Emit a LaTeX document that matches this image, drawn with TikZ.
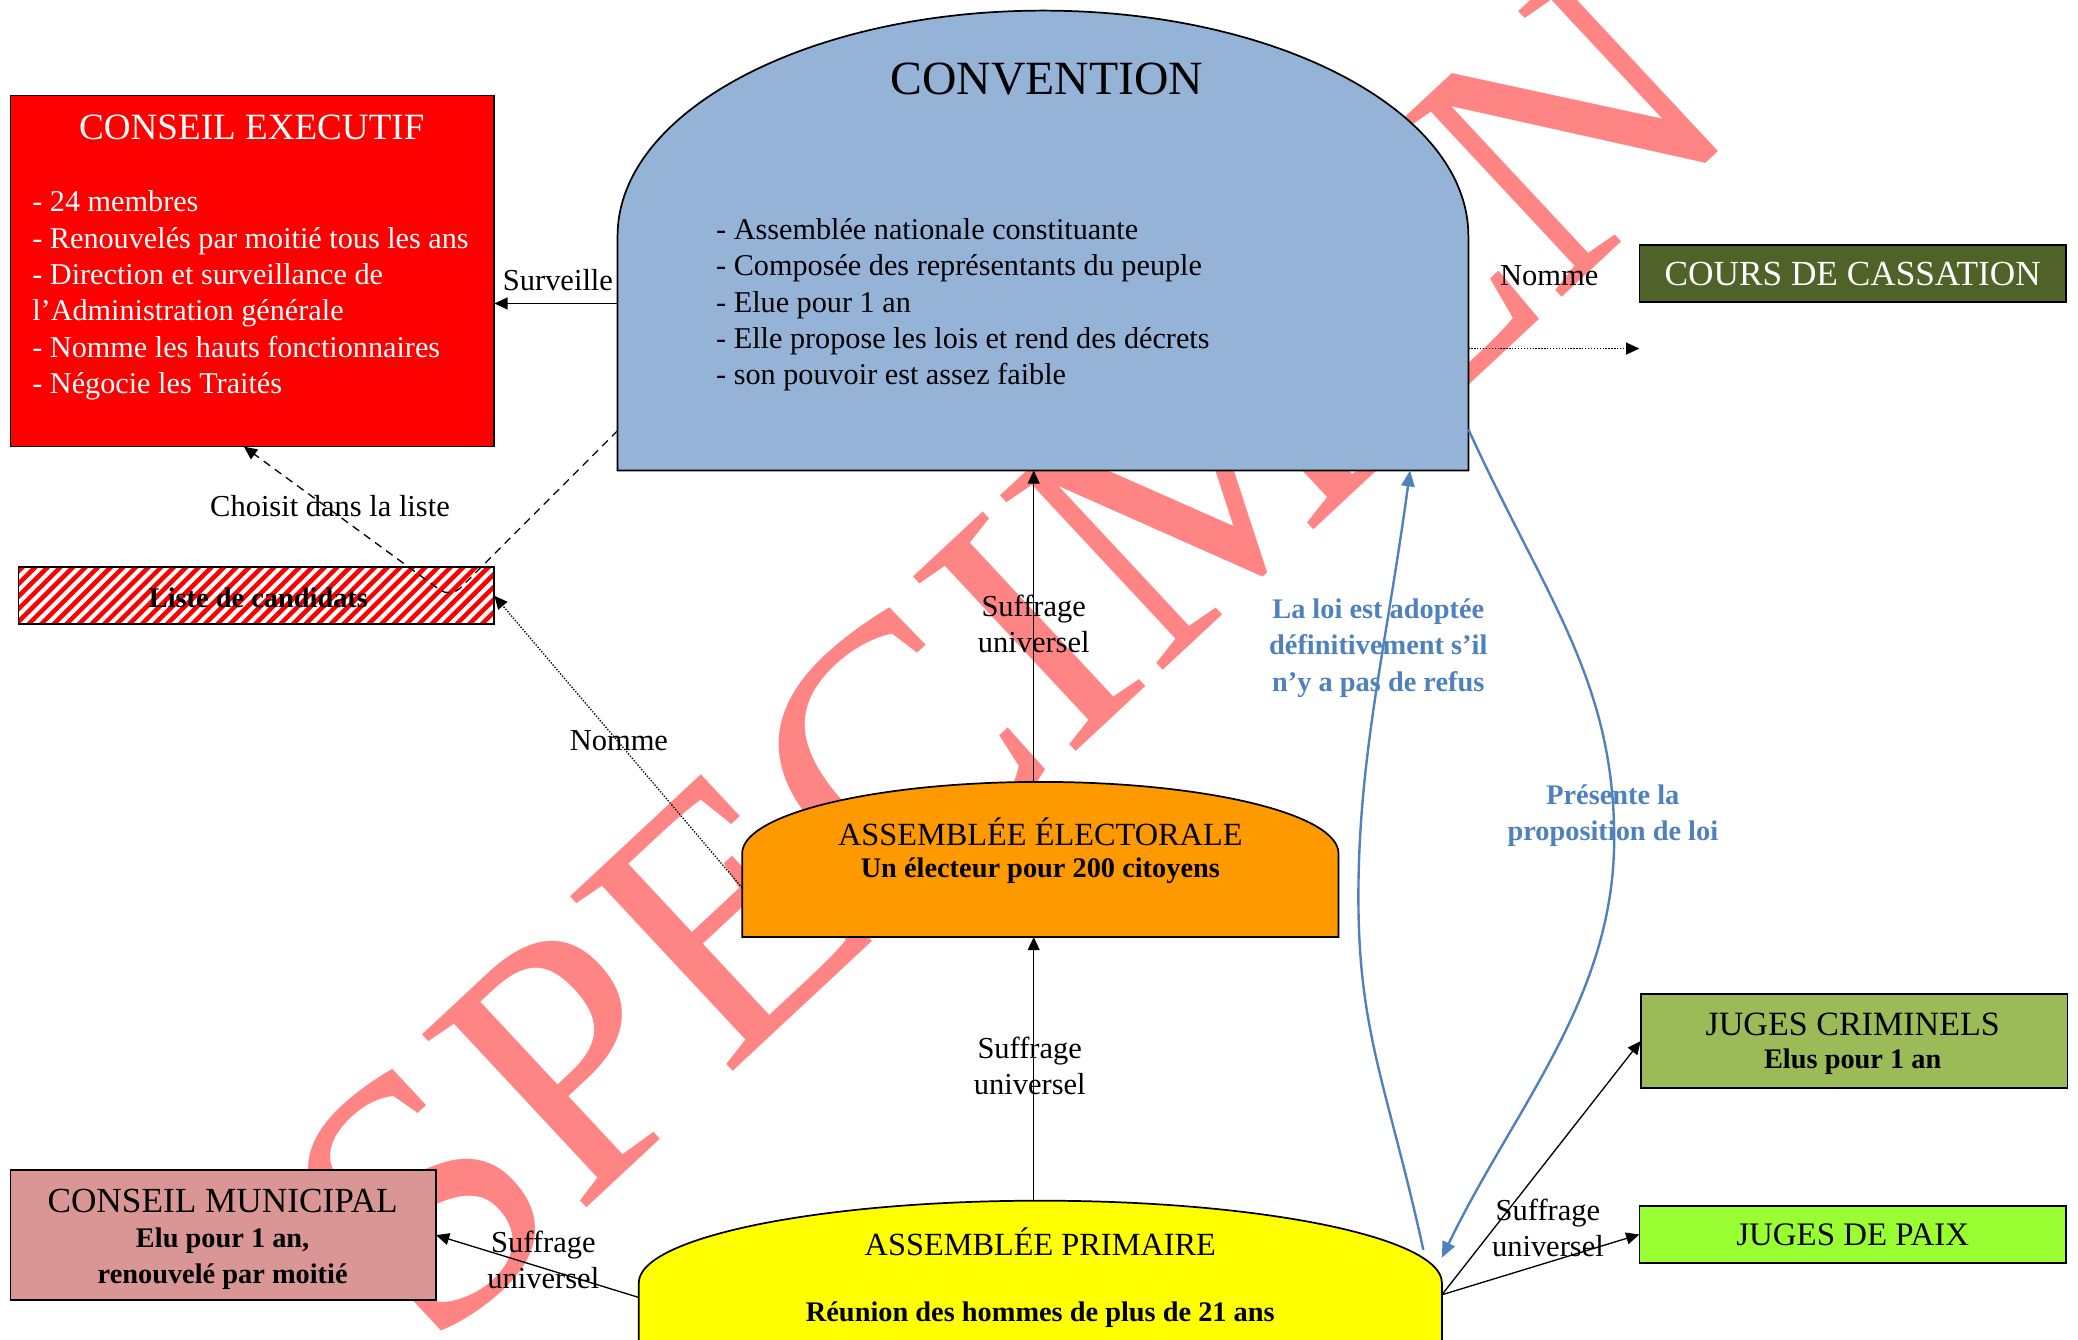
\documentclass[tikz,border=0pt]{standalone}
\usepackage{fontspec}
\setmainfont{Liberation Serif}
\usetikzlibrary{arrows.meta}
\definecolor{convblue}{HTML}{95B3D7}
\definecolor{cassgreen}{HTML}{4F6228}
\definecolor{electorange}{HTML}{FF9900}
\definecolor{primyellow}{HTML}{FFFF00}
\definecolor{munipink}{HTML}{D99694}
\definecolor{jcgreen}{HTML}{9BBB59}
\definecolor{jpgreen}{HTML}{99FF33}
\definecolor{loiblue}{HTML}{4F81BD}
\definecolor{wmred}{RGB}{255,132,132}
\begin{document}
\begin{tikzpicture}[x=0.5pt,y=-0.5pt,
  holder/.style={inner sep=0pt, outer sep=0pt, draw=none},
  rectbox/.style={draw=black, line width=0.65pt, inner sep=0pt, outer sep=0pt},
  domebox/.style={draw=black, line width=0.65pt},
  tipstyle/.style={-{Triangle[length=5pt,width=4.5pt]}},
  arr/.style={tipstyle, line width=0.5pt},
  dashedarr/.style={arr, dash pattern=on 3pt off 2.2pt},
  dottedarr/.style={arr, dash pattern=on 0.5pt off 0.6pt},
  bluearr/.style={draw=loiblue, line width=0.9pt, -{Triangle[length=6pt,width=5pt]}},
  lbl/.style={font=\fontsize{11.5}{13.5}\selectfont, align=center, inner sep=0pt},
  ttl/.style={font=\fontsize{12.8}{15}\selectfont, inner sep=0pt},
  subt/.style={font=\bfseries\fontsize{10.7}{13.5}\selectfont, inner sep=0pt, align=center},
  bluelbl/.style={text=loiblue, font=\bfseries\fontsize{10.7}{13.75}\selectfont, align=center, inner sep=0pt},
  bodytxt/.style={font=\fontsize{11.4}{13.7}\selectfont, align=left, inner sep=0pt, anchor=west},
]
\useasboundingbox (0,0) rectangle (1568,1011);
\clip (0,0) rectangle (1568,1011);
\fill[white] (0,0) rectangle (1568,1011);

% watermark
\node[holder, anchor=base west, rotate=43, text=wmred, font=\fontsize{137.5}{140}\selectfont] (wm) at (324,1022) {SPECIMEN};

% ---- shapes ----
% Conseil executif
\node[rectbox, fill=red, minimum width=182.5pt, minimum height=132.5pt] (ce) at (190.5,204.5) {};
\node[ttl, text=white, font=\fontsize{14}{16}\selectfont] (cetitle) at (190,96) {CONSEIL EXECUTIF};
\node[bodytxt, text=white] (cebody) at (24,223) {- 24 membres\\- Renouvelés par moitié tous les ans\\- Direction et surveillance de\\l'Administration générale\\- Nomme les hauts fonctionnaires\\- Négocie les Traités};

% Convention
\draw[domebox, fill=convblue] (466,355) -- (466,178) .. controls (466,84.1) and (609.7,8) .. (787,8) .. controls (964.3,8) and (1108,84.1) .. (1108,178) -- (1108,355) -- cycle;
\node[holder, minimum width=321pt, minimum height=173.5pt] (conv) at (787,181.5) {};
\node[ttl, font=\fontsize{18}{20}\selectfont] (convtitle) at (790,60) {CONVENTION};
\node[bodytxt] (convbody) at (540,230) {- Assemblée nationale constituante\\- Composée des représentants du peuple\\- Elue pour 1 an\\- Elle propose les lois et rend des décrets\\- son pouvoir est assez faible};

% Cours de cassation
\node[rectbox, fill=cassgreen, minimum width=161pt, minimum height=21.5pt] (cass) at (1398,206.5) {};
\node[ttl, text=white, font=\fontsize{13.3}{15}\selectfont] (casstxt) at (1398,207) {COURS DE CASSATION};

% Liste de candidats
\node[rectbox, fill=white, minimum width=179.5pt, minimum height=21.5pt] (liste) at (193.5,449.5) {};
\begin{scope}
  \clip (liste.south west) rectangle (liste.north east);
  \foreach \i in {0,...,44} {
    \draw[red, line width=1.7pt] ({-30+9.5*\i},475) -- ++(50,-50);
  }
\end{scope}
\draw[line width=0.65pt] (liste.south west) rectangle (liste.north east);
\node[subt] (listetxt) at (195,451) {Liste de candidats};

% Assemblee electorale
\draw[domebox, fill=electorange] (560,707) -- (560,644) .. controls (560,614.2) and (660.7,590) .. (785,590) .. controls (909.3,590) and (1010,614.2) .. (1010,644) -- (1010,707) -- cycle;
\node[holder, minimum width=225pt, minimum height=58.5pt] (elect) at (785,648.5) {};
\node[ttl, font=\fontsize{12.2}{14}\selectfont] (electtitle) at (785,628) {ASSEMBLÉE ÉLECTORALE};
\node[subt] (electsub) at (785,657) {Un électeur pour 200 citoyens};

% Assemblee primaire
\draw[domebox, fill=primyellow] (482,1030) -- (482,968) .. controls (482,933.8) and (617.7,906) .. (785,906) .. controls (952.3,906) and (1088,933.8) .. (1088,968) -- (1088,1030) -- cycle;
\node[holder, minimum width=303pt, minimum height=62pt] (prim) at (785,968) {};
\node[ttl, font=\fontsize{12.2}{14}\selectfont] (primtitle) at (785,937) {ASSEMBLÉE PRIMAIRE};
\node[subt] (primsub) at (785,992) {Réunion des hommes de plus de 21 ans};

% Conseil municipal
\node[rectbox, fill=munipink, minimum width=160.5pt, minimum height=49pt] (muni) at (168.5,932) {};
\node[ttl, font=\fontsize{13.3}{15}\selectfont] (munititle) at (168,906) {CONSEIL MUNICIPAL};
\node[subt] (munisub) at (168,949.5) {Elu pour 1 an,\\renouvelé par moitié};

% Juges
\node[rectbox, fill=jcgreen, minimum width=161pt, minimum height=35.5pt] (jc) at (1399,785.5) {};
\node[ttl, font=\fontsize{12.85}{15}\selectfont] (jctitle) at (1398,773) {JUGES CRIMINELS};
\node[subt] (jcsub) at (1398,801) {Elus pour 1 an};
\node[rectbox, fill=jpgreen, minimum width=161pt, minimum height=21.5pt] (jp) at (1398,931.5) {};
\node[ttl, font=\fontsize{12.4}{15}\selectfont] (jptitle) at (1398,932) {JUGES DE PAIX};

% ---- connectors ----
\draw[arr] ([yshift=-23.75pt]conv.west) -- ([yshift=-23.75pt]conv.west -| ce.east);
\node[lbl] (lsurv) at (421,211) {Surveille};

\coordinate (cassTip) at (1237,263);
\draw[dottedarr] ([yshift=-40.75pt]conv.east) -- (cassTip);
\node[lbl] (lnomme1) at (1169,208) {Nomme};

\draw[dashedarr, rounded corners=5pt] ([yshift=-71.75pt]conv.west) -- (340,451) -- ([xshift=-3.25pt]ce.south);
\node[lbl] (lchoisit) at (249,382) {Choisit dans la liste};

\draw[dottedarr] ([yshift=-10.75pt]elect.west) -- (liste.east);
\node[lbl] (lnomme2) at (467,559) {Nomme};

\draw[arr] ([xshift=-2.5pt]elect.north) -- ([xshift=-2.5pt]elect.north |- conv.south);
\node[lbl] (ls1) at (780,470.5) {Suffrage\\universel};
\draw[arr] ([xshift=-2.5pt]prim.north) -- ([xshift=-2.5pt]prim.north |- elect.south);
\node[lbl] (ls2) at (777,804.5) {Suffrage\\universel};
\draw[arr] ([yshift=-5.5pt]prim.west) -- (muni.east);
\node[lbl] (ls3) at (410,950.5) {Suffrage\\universel};
\draw[arr] ([yshift=-4.5pt]prim.east) -- (jc.west);
\draw[arr] ([yshift=-4.5pt]prim.east) -- (jp.west);
\node[lbl] (ls4) at (1168,926.5) {Suffrage\\universel};

\draw[bluearr] ([xshift=-7pt,yshift=-18.5pt]prim.north east) .. controls (1047,820) and (1025,780) .. (1025,677) .. controls (1025,570) and (1046,488) .. ([xshift=138.5pt]conv.south);
\draw[bluearr] ([yshift=-71.25pt]conv.east) .. controls (1166,451) and (1218,513) .. (1218,633) .. controls (1218,753) and (1143,835) .. ([yshift=-21.5pt]prim.north east);
\node[bluelbl] (lloi) at (1040,489) {La loi est adoptée\\définitivement s'il\\n'y a pas de refus};
\node[bluelbl] (lprop) at (1217,615.5) {Présente la\\proposition de loi};
\end{tikzpicture}
\end{document}
